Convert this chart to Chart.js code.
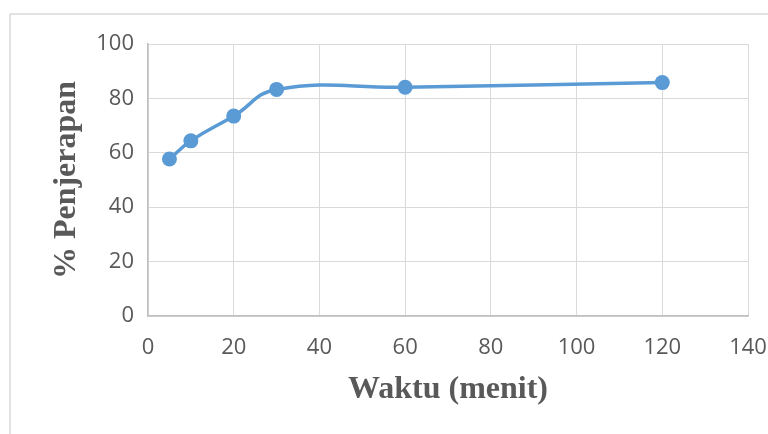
<!DOCTYPE html>
<html>
<head>
<meta charset="utf-8">
<script src="https://cdn.jsdelivr.net/npm/chart.js@4"></script>
<style>
  html, body { margin: 0; padding: 0; background: #fff; }
  #wrap { width: 768px; height: 434px; position: relative; }
</style>
</head>
<body>
<div id="wrap"><canvas id="grafik"></canvas></div>
<script>
// data
const waktu = [5, 10, 20, 30, 60, 120];
const penjerapan = [57.7, 64.4, 73.5, 83.3, 84.1, 85.8];
const xTicks = [0, 20, 40, 60, 80, 100, 120, 140];
const yTicks = [0, 20, 40, 60, 80, 100];

const warna = '#5B9BD5';
const abu = '#595959';

// bingkai luar tipis seperti di Excel
const bingkai = {
    id: 'bingkai',
    beforeDraw(chart) {
        const c = chart.ctx;
        c.save();
        c.strokeStyle = '#D9D9D9';
        c.lineWidth = 1.5;
        c.beginPath();
        c.moveTo(10, 440);
        c.lineTo(10, 14);
        c.lineTo(775, 14);
        c.stroke();
        c.restore();
    }
};

const ctx = document.getElementById('grafik');

new Chart(ctx, {
    type: 'scatter',
    data: {
        datasets: [{
            label: '% Penjerapan',
            data: waktu.map((x, i) => ({ x: x, y: penjerapan[i] })),
            showLine: true,
            borderColor: warna,
            backgroundColor: warna,
            borderWidth: 3.5,
            pointRadius: 7.5,
            pointHoverRadius: 7.5,
            pointBorderWidth: 0,
            tension: 0.45
        }]
    },
    options: {
        responsive: true,
        maintainAspectRatio: false,
        animation: false,
        layout: {
            padding: { left: 0, right: 0, top: 44, bottom: 0 }
        },
        plugins: {
            legend: { display: false },
            tooltip: { enabled: false }
        },
        scales: {
            x: {
                type: 'linear',
                min: 0,
                max: 140,
                afterBuildTicks: (s) => { s.ticks = xTicks.map(v => ({ value: v })); },
                afterFit: (s) => {
                    s.height = 118;
                    s.paddingLeft = 0;
                    s.paddingRight = 20; // label 140 terpotong di tepi kanan
                },
                grid: { color: '#D9D9D9', drawTicks: false },
                border: { color: '#BFBFBF', width: 1.5 },
                ticks: {
                    color: abu,
                    padding: 19,
                    font: { family: 'Open Sans', size: 22 }
                },
                title: {
                    display: true,
                    text: 'Waktu (menit)',
                    color: abu,
                    padding: { top: 0, bottom: 25 },
                    font: { family: 'Liberation Serif', size: 32, weight: 'bold' }
                }
            },
            y: {
                min: 0,
                max: 100,
                afterBuildTicks: (s) => { s.ticks = yTicks.map(v => ({ value: v })); },
                afterFit: (s) => { s.width = 148; },
                grid: { color: '#D9D9D9', drawTicks: false },
                border: { color: '#BFBFBF', width: 1.5 },
                ticks: {
                    color: abu,
                    padding: 14,
                    font: { family: 'Open Sans', size: 22 }
                },
                title: {
                    display: true,
                    text: '% Penjerapan',
                    color: abu,
                    padding: { top: 48, bottom: 0 },
                    font: { family: 'Liberation Serif', size: 32, weight: 'bold' }
                }
            }
        }
    },
    plugins: [bingkai]
});
</script>
</body>
</html>
